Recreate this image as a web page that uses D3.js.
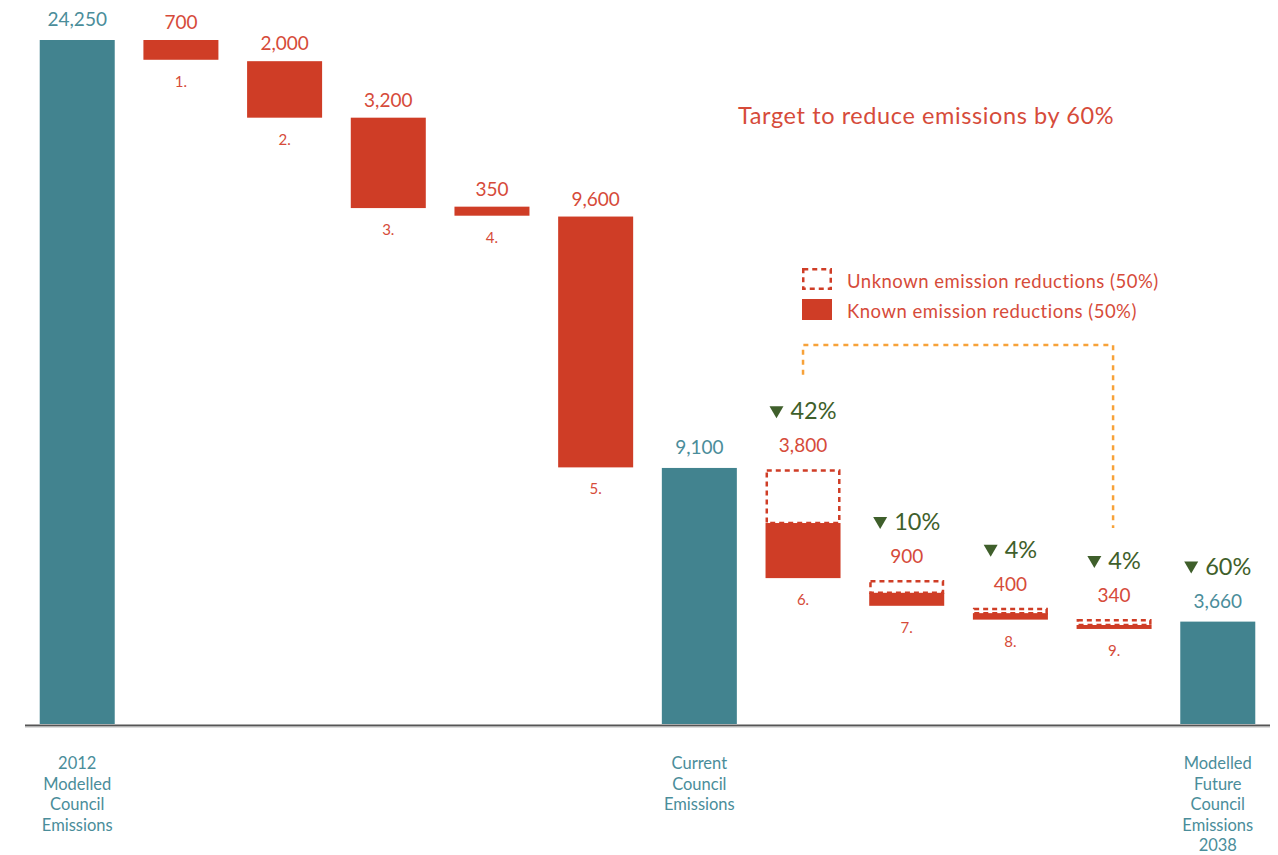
<!DOCTYPE html>
<html>
<head>
<meta charset="utf-8">
<script src="https://cdn.jsdelivr.net/npm/d3@7"></script>
<style>
  html, body { margin: 0; padding: 0; background: #fff; }
  svg { display: block; font-family: Lato, "Open Sans", sans-serif; }
</style>
</head>
<body>
<svg id="chart" width="1278" height="855"></svg>
<script>
// ---------------- DATA ----------------
const categories = [
  ["2012", "Modelled", "Council", "Emissions"],
  ["1."], ["2."], ["3."], ["4."], ["5."],
  ["Current", "Council", "Emissions"],
  ["6."], ["7."], ["8."], ["9."],
  ["Modelled", "Future", "Council", "Emissions", "2038"]
];
const barKind = ["total", "step", "step", "step", "step", "step", "total", "split", "split", "split", "split", "total"];
const valueLabels = [24250, 700, 2000, 3200, 350, 9600, 9100, 3800, 900, 400, 340, 3660];
// drawn extent of each bar (emissions units)
const barTop    = [24250, 24250, 23500, 21500, 18350, 18000, 9100, 9050, 5130, 4150, 3750, 3660];
const barBottom = [0, 23550, 21500, 18300, 18030, 9120, 0, 5200, 4220, 3730, 3400, 0];
// top of the "known" (solid) part of split bars; above it is "unknown" (dashed)
const barSplit  = [null, null, null, null, null, null, null, 7150, 4680, 3960, 3540, null];
const pctLabels = [null, null, null, null, null, null, null, "42%", "10%", "4%", "4%", "60%"];
const titleText = "Target to reduce emissions by 60%";
const legendItems = ["Unknown emission reductions (50%)", "Known emission reductions (50%)"];
// bracket spanning known steps 6..9 (indices), at a given level
const bracketFrom = 7, bracketTo = 10, bracketLevel = 13450, bracketLeftEnd = 12400, bracketRightEnd = 6970;

// ---------------- STYLE ----------------
const teal = "#42838f", tealText = "#4a8d9a";
const red = "#cf3d26", redText = "#d64b3a";
const green = "#3f5f2b", orange = "#f7a23a";

const svg = d3.select("#chart");
const idx = d3.range(categories.length);

const x = d3.scaleBand().domain(idx).range([25, 1270]).paddingInner(0.2766).paddingOuter(0.142);
const y = d3.scaleLinear().domain([0, 24250]).range([725, 40]);
const fmt = d3.format(",");
const bw = x.bandwidth();
const cx = i => x(i) + bw / 2;

// bars
idx.forEach(i => {
  const k = barKind[i];
  if (k === "total") {
    svg.append("rect").attr("x", x(i)).attr("width", bw)
      .attr("y", y(barTop[i])).attr("height", y(barBottom[i]) - y(barTop[i]) - 1)
      .attr("fill", teal);
  } else if (k === "step") {
    svg.append("rect").attr("x", x(i)).attr("width", bw)
      .attr("y", y(barTop[i])).attr("height", y(barBottom[i]) - y(barTop[i]))
      .attr("fill", red);
  } else {
    svg.append("rect").attr("x", x(i)).attr("width", bw)
      .attr("y", y(barSplit[i])).attr("height", y(barBottom[i]) - y(barSplit[i]))
      .attr("fill", red);
    const sw = 2.5;
    svg.append("rect").attr("x", x(i) + sw / 2).attr("width", bw - sw)
      .attr("y", y(barTop[i]) + sw / 2).attr("height", y(barSplit[i]) - y(barTop[i]) - sw / 2)
      .attr("fill", "none").attr("stroke", red).attr("stroke-width", sw)
      .attr("stroke-dasharray", "5,4");
  }
});

// axis baseline
svg.append("line").attr("x1", 25).attr("x2", 1270).attr("y1", y(0) + 0.5).attr("y2", y(0) + 0.5)
  .attr("stroke", "#555").attr("stroke-width", 2);
svg.append("line").attr("x1", 25).attr("x2", 1270).attr("y1", y(0) + 2).attr("y2", y(0) + 2)
  .attr("stroke", "#bbb").attr("stroke-width", 1);

// value labels
const labelGap = { total: 14, step: 11, split: 17 };
const valueBase = idx.map(i => y(barTop[i]) - labelGap[barKind[i]]);
idx.forEach(i => {
  svg.append("text").attr("x", cx(i)).attr("y", valueBase[i])
    .attr("text-anchor", "middle").attr("font-size", 19)
    .attr("fill", barKind[i] === "total" ? tealText : redText)
    .text(fmt(valueLabels[i]));
});

// category labels
idx.forEach(i => {
  if (barKind[i] === "total") {
    const t = svg.append("text").attr("text-anchor", "middle").attr("font-size", 16.5).attr("fill", tealText);
    categories[i].forEach((line, j) => {
      t.append("tspan").attr("x", cx(i)).attr("y", 769 + j * 20.6).text(line);
    });
  } else {
    svg.append("text").attr("x", cx(i)).attr("y", y(barBottom[i]) + 27)
      .attr("text-anchor", "middle").attr("font-size", 15).attr("fill", redText)
      .text(categories[i][0]);
  }
});

// percentage labels with down triangles
idx.forEach(i => {
  if (!pctLabels[i]) return;
  const base = valueBase[i] - 33;
  const g = svg.append("g");
  const t = g.append("text").attr("y", base).attr("font-size", 23.5).attr("fill", green).text(pctLabels[i]);
  const tw = t.node().getComputedTextLength();
  const triW = 14, gap = 7;
  const total = triW + gap + tw;
  const left = cx(i) - total / 2;
  t.attr("x", left + triW + gap);
  g.append("path")
    .attr("d", `M${left},${base - 13} L${left + triW},${base - 13} L${left + triW / 2},${base - 1} Z`)
    .attr("fill", green);
});

// orange bracket
svg.append("path")
  .attr("d", `M${cx(bracketFrom)},${y(bracketLeftEnd)} L${cx(bracketFrom)},${y(bracketLevel)} L${cx(bracketTo) - 1},${y(bracketLevel)} L${cx(bracketTo) - 1},${y(bracketRightEnd)}`)
  .attr("fill", "none").attr("stroke", orange).attr("stroke-width", 2.5).attr("stroke-dasharray", "5,5");

// title
svg.append("text").attr("x", 738).attr("y", 124).attr("font-size", 23.5)
  .attr("letter-spacing", 0.6).attr("fill", redText).text(titleText);

// legend
const lg = svg.append("g").attr("transform", "translate(802,268)");
lg.append("rect").attr("x", 1.25).attr("y", 1.25).attr("width", 27.5).attr("height", 19.5)
  .attr("fill", "none").attr("stroke", red).attr("stroke-width", 2.5).attr("stroke-dasharray", "5,4");
lg.append("rect").attr("x", 0).attr("y", 31).attr("width", 30).attr("height", 21).attr("fill", red);
legendItems.forEach((s, j) => {
  lg.append("text").attr("x", 45).attr("y", 20 + j * 30).attr("font-size", 18.5)
    .attr("letter-spacing", 0.5).attr("fill", redText).text(s);
});
</script>
</body>
</html>
